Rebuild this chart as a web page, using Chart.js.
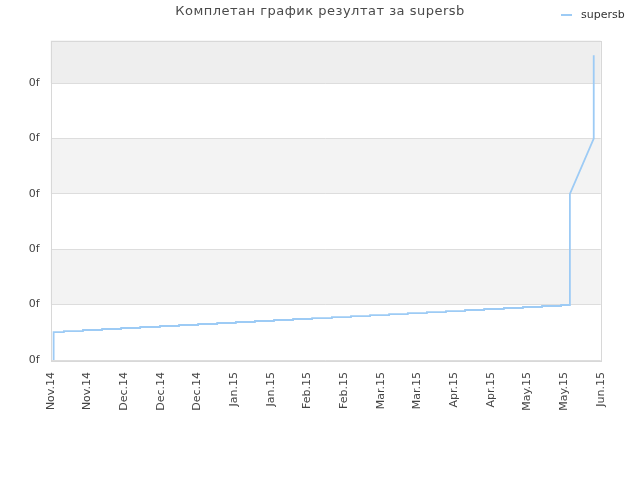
<!DOCTYPE html>
<html>
<head>
<meta charset="utf-8">
<script src="https://cdn.jsdelivr.net/npm/chart.js@4.4.1/dist/chart.umd.min.js"></script>
<style>
  html, body { margin: 0; padding: 0; background: #fff; }
  #wrap { width: 640px; height: 480px; position: relative; }
</style>
</head>
<body>
<div id="wrap"><canvas id="chart"></canvas></div>
<script>
const chartTitle = 'Комплетан график резултат за supersb';
const seriesName = 'supersb';

// x axis: one tick every two weeks
const xTickLabels = ['Nov.14', 'Nov.14', 'Dec.14', 'Dec.14', 'Dec.14', 'Jan.15', 'Jan.15', 'Feb.15',
  'Feb.15', 'Mar.15', 'Mar.15', 'Apr.15', 'Apr.15', 'May.15', 'May.15', 'Jun.15'];
const yTickLabels = ['0f', '0f', '0f', '0f', '0f', '0f'];
const yMax = 5.77;

// weekly score levels (x in tick units)
const stepX = [0.08, 0.36, 0.88, 1.40, 1.92, 2.44, 2.98, 3.50, 4.02, 4.54, 5.05, 5.57, 6.09, 6.61,
  7.13, 7.67, 8.19, 8.71, 9.23, 9.74, 10.26, 10.78, 11.30, 11.82, 12.36, 12.88, 13.40, 13.92];
const stepY = [0.505, 0.523, 0.542, 0.560, 0.578, 0.596, 0.614, 0.632, 0.650, 0.668, 0.686, 0.704,
  0.722, 0.740, 0.758, 0.776, 0.794, 0.812, 0.830, 0.848, 0.866, 0.884, 0.903, 0.921, 0.939, 0.957,
  0.975, 0.993];
// last jump at the end of May
const tailX = [14.16, 14.16, 14.81, 14.81];
const tailY = [0.993, 3.0, 4.0, 5.505];

const points = [{ x: stepX[0], y: 0 }];
for (let i = 0; i < stepX.length; i++) {
  points.push({ x: stepX[i], y: stepY[i] });
  const nextX = i + 1 < stepX.length ? stepX[i + 1] : tailX[0];
  points.push({ x: nextX, y: stepY[i] });
}
for (let i = 1; i < tailX.length; i++) {
  points.push({ x: tailX[i], y: tailY[i] });
}

const lineColor = '#9dcbf5';
const font = 'DejaVu Sans';

const frame = {
  id: 'frame',
  beforeDraw(chart) {
    const { ctx, chartArea: a, scales: { y } } = chart;
    ctx.save();
    const bands = [[0, 1, '#ffffff'], [1, 2, '#f3f3f3'], [2, 3, '#ffffff'], [3, 4, '#f3f3f3'],
      [4, 5, '#ffffff'], [5, yMax, '#eeeeee']];
    bands.forEach(([lo, hi, c]) => {
      const top = y.getPixelForValue(hi);
      const bot = y.getPixelForValue(lo);
      ctx.fillStyle = c;
      ctx.fillRect(a.left, top, a.right - a.left, bot - top);
    });
    ctx.restore();
  },
  afterDraw(chart) {
    const { ctx, chartArea: a } = chart;
    ctx.save();
    ctx.strokeStyle = '#d8d8d8';
    ctx.lineWidth = 1;
    ctx.strokeRect(Math.round(a.left) + 0.5, Math.round(a.top) + 0.5,
      Math.round(a.right - a.left), Math.round(a.bottom - a.top));

    // title
    ctx.fillStyle = '#4a4a4a';
    ctx.font = '13px "' + font + '"';
    ctx.letterSpacing = '0.5px';
    ctx.textAlign = 'center';
    ctx.textBaseline = 'middle';
    ctx.fillText(chartTitle, 320, 12);
    ctx.letterSpacing = '0px';

    // legend
    ctx.strokeStyle = lineColor;
    ctx.lineWidth = 2;
    ctx.beginPath();
    ctx.moveTo(561, 15);
    ctx.lineTo(572, 15);
    ctx.stroke();
    ctx.fillStyle = '#333333';
    ctx.font = '11px "' + font + '"';
    ctx.textAlign = 'left';
    ctx.fillText(seriesName, 581, 15);
    ctx.restore();
  }
};

new Chart(document.getElementById('chart'), {
  type: 'line',
  data: {
    datasets: [{
      label: seriesName,
      data: points,
      borderColor: lineColor,
      borderWidth: 1.8,
      pointRadius: 0,
      fill: false,
      tension: 0
    }]
  },
  options: {
    responsive: true,
    maintainAspectRatio: false,
    animation: false,
    layout: { padding: { top: 40.5, left: 0, right: 39.3, bottom: 0 } },
    plugins: {
      legend: { display: false },
      title: { display: false },
      tooltip: { enabled: false }
    },
    scales: {
      x: {
        type: 'linear',
        min: 0,
        max: xTickLabels.length - 1,
        afterFit(scale) { scale.height = 120; },
        afterBuildTicks(scale) {
          scale.ticks = xTickLabels.map((_, i) => ({ value: i }));
        },
        grid: { display: false },
        border: { display: false },
        ticks: {
          autoSkip: false,
          minRotation: 90,
          maxRotation: 90,
          padding: 4,
          color: '#444444',
          font: { family: font, size: 11 },
          callback: (v) => xTickLabels[v]
        }
      },
      y: {
        min: 0,
        max: yMax,
        afterFit(scale) { scale.width = 50.7; },
        afterBuildTicks(scale) {
          scale.ticks = yTickLabels.map((_, i) => ({ value: i }));
        },
        grid: { color: '#dddddd', drawTicks: false },
        border: { display: false },
        ticks: {
          padding: 11,
          color: '#444444',
          font: { family: font, size: 11 },
          callback: (v) => yTickLabels[v]
        }
      }
    }
  },
  plugins: [frame]
});
</script>
</body>
</html>
